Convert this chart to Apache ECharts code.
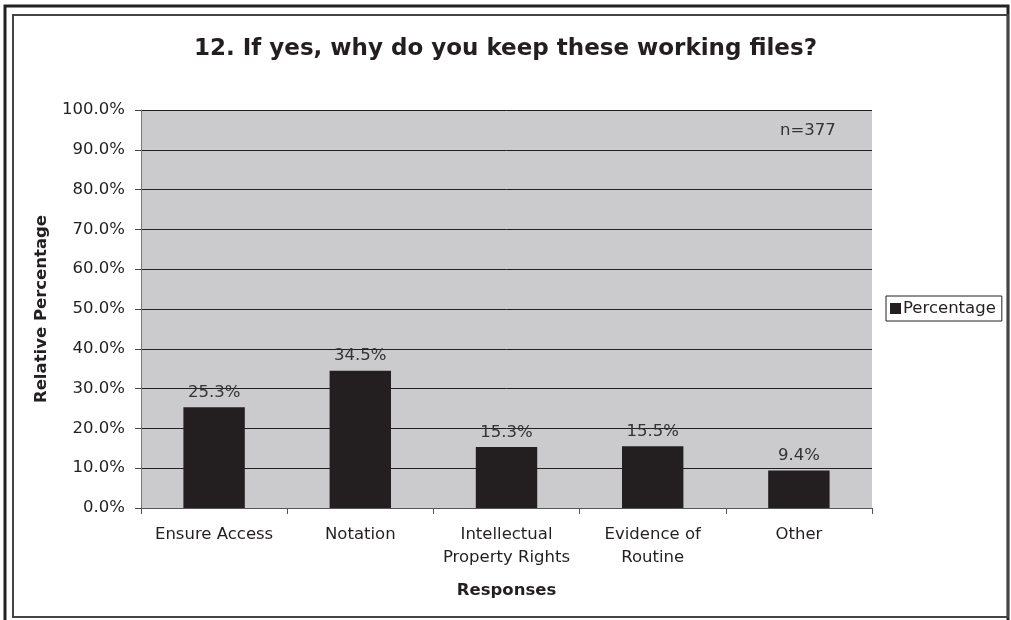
<!DOCTYPE html>
<html>
<head>
<meta charset="utf-8">
<script src="https://cdn.jsdelivr.net/npm/echarts@6/dist/echarts.min.js"></script>
<style>
  html, body { margin: 0; padding: 0; background: #fff; }
  #chart { width: 1011px; height: 620px; }
</style>
</head>
<body>
<div id="chart"></div>
<script>
// Survey question 12: reasons for keeping working files
const categories = ['Ensure Access', 'Notation', 'Intellectual\nProperty Rights', 'Evidence of\nRoutine', 'Other'];
const percentages = [25.3, 34.5, 15.3, 15.5, 9.4];
const yTicks = { min: 0, max: 100, interval: 10 };
const seriesName = 'Percentage';
const sampleNote = 'n=377';

const FONT = '"DejaVu Sans", Verdana, sans-serif';

const chart = echarts.init(document.getElementById('chart'));
chart.setOption({
  animation: false,
  backgroundColor: '#ffffff',
  title: {
    text: '12. If yes, why do you keep these working files?',
    left: 'center',
    top: 33,
    textStyle: { fontFamily: FONT, fontSize: 23, fontWeight: 'bold', color: '#231f20' }
  },
  legend: {
    data: [seriesName],
    left: 886,
    top: 296,
    orient: 'vertical',
    icon: 'rect',
    itemWidth: 11,
    itemHeight: 11,
    itemGap: 4,
    padding: [4, 6, 4, 4],
    borderColor: '#231f20',
    borderWidth: 1,
    backgroundColor: '#ffffff',
    textStyle: { fontFamily: FONT, fontSize: 16.5, color: '#231f20', padding: [0, 0, 0, -3] }
  },
  grid: {
    left: 141,
    right: 139,
    top: 110,
    bottom: 112,
    show: true,
    backgroundColor: '#cbcbcd',
    borderWidth: 0
  },
  xAxis: {
    type: 'category',
    data: categories,
    name: 'Responses',
    nameLocation: 'middle',
    nameGap: 74,
    nameTextStyle: { fontFamily: FONT, fontSize: 16.5, fontWeight: 'bold', color: '#231f20' },
    axisLine: { lineStyle: { color: '#555', width: 1 } },
    axisTick: { show: true, length: 6, lineStyle: { color: '#555' } },
    axisLabel: {
      fontFamily: FONT, fontSize: 16.5, color: '#231f20',
      lineHeight: 23, margin: 15, interval: 0
    }
  },
  yAxis: {
    type: 'value',
    min: yTicks.min,
    max: yTicks.max,
    interval: yTicks.interval,
    name: 'Relative Percentage',
    nameLocation: 'middle',
    nameGap: 91,
    nameTextStyle: { fontFamily: FONT, fontSize: 16.5, fontWeight: 'bold', color: '#231f20' },
    axisLine: { show: true, lineStyle: { color: '#777', width: 1 } },
    axisTick: { show: true, length: 6, lineStyle: { color: '#444' } },
    axisLabel: {
      fontFamily: FONT, fontSize: 16.5, color: '#231f20', margin: 16,
      formatter: v => v.toFixed(1) + '%'
    },
    splitLine: { show: true, lineStyle: { color: '#231f20', width: 1 } }
  },
  series: [{
    name: seriesName,
    type: 'bar',
    data: percentages,
    barWidth: '42%',
    itemStyle: { color: '#231f20' },
    label: {
      show: true,
      position: 'top',
      distance: 6,
      fontFamily: FONT,
      fontSize: 16.5,
      color: '#333',
      formatter: p => p.value.toFixed(1) + '%'
    }
  }],
  graphic: [
    {
      type: 'rect',
      shape: { x: 5, y: 6, width: 1003, height: 620 },
      style: { fill: 'none', stroke: '#222', lineWidth: 3 },
      silent: true
    },
    {
      type: 'rect',
      shape: { x: 13, y: 15, width: 995, height: 602 },
      style: { fill: 'none', stroke: '#444', lineWidth: 2 },
      silent: true
    },
    {
      type: 'text',
      left: 780,
      top: 122,
      style: { text: sampleNote, fontFamily: FONT, fontSize: 16.5, fill: '#333' },
      silent: true
    }
  ]
});
</script>
</body>
</html>
